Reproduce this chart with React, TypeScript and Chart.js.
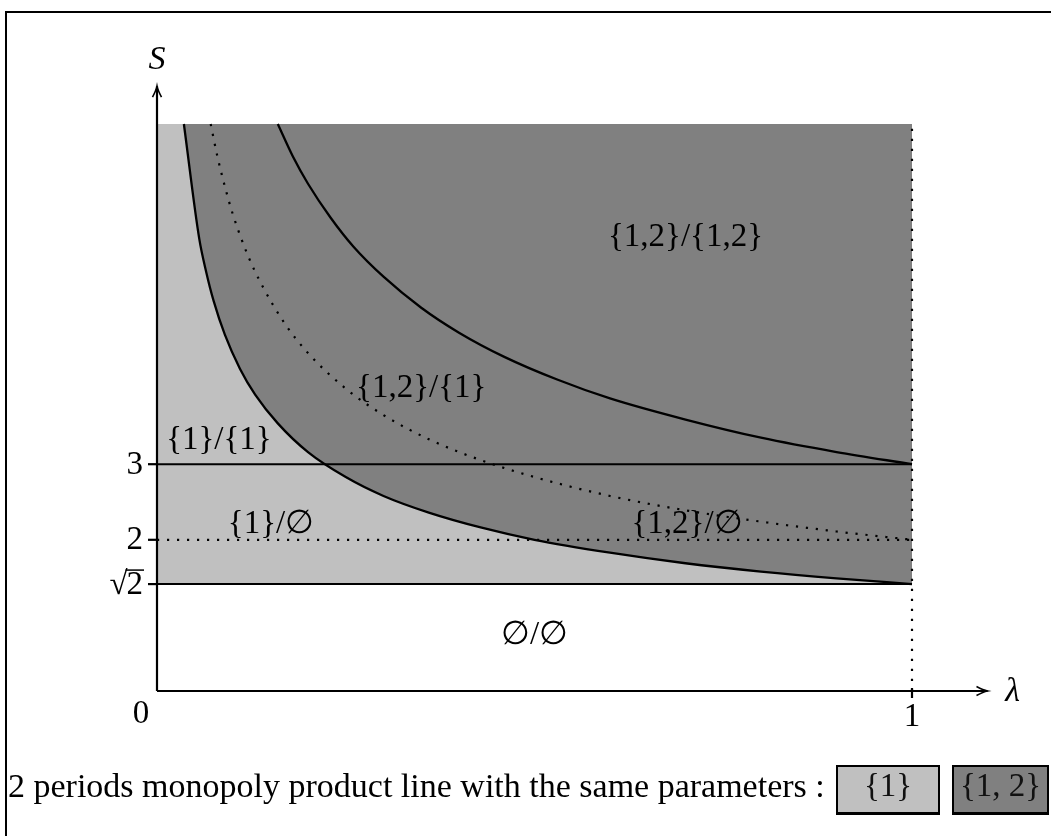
import { useEffect, useRef } from 'react';
import { Chart, registerables } from 'chart.js';

Chart.register(...registerables);

const FONT = '"Liberation Serif", "DejaVu Serif", serif';

// axis extents (data units)
const LAMBDA_AXIS_END = 1.1;
const S_AXIS_END = 8;
const S_TOP = 7.5;
const SQRT2 = 1.4142;

// lower boundary curve ({1} / {1,2} frontier)
const lowerLambda = [0.0356, 0.056, 0.065, 0.075, 0.09, 0.11, 0.13, 0.16, 0.2, 0.25, 0.3, 0.36, 0.43, 0.5, 0.6, 0.7, 0.8, 0.9, 1.0];
const lowerS = [7.5, 5.98, 5.55, 5.16, 4.71, 4.26, 3.92, 3.54, 3.16, 2.83, 2.58, 2.36, 2.16, 2.0, 1.83, 1.69, 1.58, 1.49, 1.4142];

// dotted curve
const dottedLambda = [0.0711, 0.08, 0.09, 0.1, 0.12, 0.14, 0.17, 0.2, 0.25, 0.3, 0.36, 0.43, 0.5, 0.6, 0.7, 0.8, 0.9, 1.0];
const dottedS = [7.5, 7.07, 6.67, 6.32, 5.77, 5.35, 4.85, 4.47, 4.0, 3.65, 3.33, 3.05, 2.83, 2.58, 2.39, 2.24, 2.11, 2.0];

// upper curve
const upperLambda = [0.16, 0.18, 0.2, 0.23, 0.26, 0.3, 0.35, 0.4, 0.46, 0.53, 0.6, 0.7, 0.8, 0.9, 1.0];
const upperS = [7.5, 7.07, 6.71, 6.26, 5.88, 5.48, 5.07, 4.74, 4.42, 4.12, 3.87, 3.59, 3.35, 3.16, 3.0];

// ticks
const yTickValues = [3, 2, SQRT2];
const yTickLabels = ['3', '2', '√2'];
const xTickValues = [1];
const xTickLabels = ['1'];

// region labels
const regionLabels = ['{1,2}/{1,2}', '{1,2}/{1}', '{1}/{1}', '{1}/∅', '{1,2}/∅', '∅/∅'];
const regionLambda = [0.70, 0.35, 0.082, 0.151, 0.702, 0.5];
const regionS = [6.0, 4.0, 3.31, 2.2, 2.2, 0.73];

const legendLabels = ['{1}', '{1, 2}'];
const caption = 'Figure 4: Dynamic (Stackelberg) product line equilibrium when the longest period';
const legendText = '2 periods monopoly product line with the same parameters :';

const LIGHT = '#c0c0c0';
const DARK = '#808080';

const pts = (xs: number[], ys: number[]) => xs.map((x, i) => ({ x, y: ys[i] }));

const overlay = {
  id: 'overlay',
  afterDatasetsDraw(chart: any) {
    const { ctx, scales, chartArea } = chart;
    const X = scales.x;
    const Y = scales.y;
    const px = (v: number) => X.getPixelForValue(v);
    const py = (v: number) => Y.getPixelForValue(v);
    ctx.save();
    ctx.strokeStyle = '#000';
    ctx.fillStyle = '#000';
    ctx.lineCap = 'butt';
    const seg = (x1: number, y1: number, x2: number, y2: number, w: number) => {
      ctx.lineWidth = w;
      ctx.beginPath();
      ctx.moveTo(x1, y1);
      ctx.lineTo(x2, y2);
      ctx.stroke();
    };
    const x0 = px(0);
    const y0 = py(0);
    // axes
    seg(x0, y0, px(LAMBDA_AXIS_END), y0, 2.2);
    seg(x0, y0, x0, py(S_AXIS_END), 2.2);
    // arrow heads
    ctx.lineWidth = 1.6;
    const xt = px(LAMBDA_AXIS_END);
    ctx.beginPath();
    ctx.moveTo(xt - 11, y0 - 4.5);
    ctx.quadraticCurveTo(xt - 4, y0 - 0.8, xt, y0);
    ctx.quadraticCurveTo(xt - 4, y0 + 0.8, xt - 11, y0 + 4.5);
    ctx.stroke();
    const yt = py(S_AXIS_END);
    ctx.beginPath();
    ctx.moveTo(x0 - 4.5, yt + 11);
    ctx.quadraticCurveTo(x0 - 0.8, yt + 4, x0, yt);
    ctx.quadraticCurveTo(x0 + 0.8, yt + 4, x0 + 4.5, yt + 11);
    ctx.stroke();
    // y ticks
    ctx.font = `33px ${FONT}`;
    ctx.textBaseline = 'middle';
    yTickValues.forEach((v, i) => {
      const yy = py(v);
      seg(x0 - 9, yy, x0, yy, 2.2);
      const lab = yTickLabels[i];
      ctx.textAlign = 'right';
      if (lab.startsWith('√')) {
        const rest = lab.slice(1);
        const w = ctx.measureText(rest).width;
        const right = x0 - 14;
        ctx.fillText(rest, right, yy + 1);
        ctx.fillText('√', right - w + 1, yy + 1);
        seg(right - w - 1, yy - 14, right + 1, yy - 14, 1.5);
      } else {
        ctx.fillText(lab, x0 - 14, yy + 1);
      }
    });
    // x ticks
    xTickValues.forEach((v, i) => {
      const xx = px(v);
      seg(xx, y0 - 3, xx, y0 + 7, 2.2);
      ctx.textAlign = 'center';
      ctx.fillText(xTickLabels[i], xx, y0 + 26);
    });
    // origin label
    ctx.textAlign = 'center';
    ctx.fillText('0', x0 - 16, y0 + 23);
    // axis titles
    ctx.font = `italic 34px ${FONT}`;
    ctx.fillText('S', x0, chartArea.top - 26);
    ctx.fillText('λ', px(LAMBDA_AXIS_END) + 25, y0 + 1);
    // region labels
    ctx.font = `33px ${FONT}`;
    regionLabels.forEach((t, i) => {
      ctx.fillText(t, px(regionLambda[i]), py(regionS[i]));
    });
    ctx.restore();
  },
};

export default function App() {
  const ref = useRef<HTMLCanvasElement>(null);
  useEffect(() => {
    const chart = new Chart(ref.current as HTMLCanvasElement, {
      type: 'scatter',
      data: {
        datasets: [
          {
            data: pts([0, 1], [S_TOP, S_TOP]),
            showLine: true,
            fill: { value: SQRT2 },
            backgroundColor: LIGHT,
            borderColor: 'rgba(0,0,0,0)',
            borderWidth: 0,
            order: 10,
          },
          {
            data: pts(lowerLambda, lowerS),
            showLine: true,
            fill: { value: S_TOP },
            backgroundColor: DARK,
            borderColor: '#000',
            borderWidth: 2.3,
            cubicInterpolationMode: 'monotone',
            order: 9,
          },
          {
            data: pts([0, 1], [3, 3]),
            showLine: true,
            borderColor: '#000',
            borderWidth: 2,
            order: 5,
          },
          {
            data: pts([0, 1], [SQRT2, SQRT2]),
            showLine: true,
            borderColor: '#000',
            borderWidth: 2,
            order: 5,
          },
          {
            data: pts([0, 1], [2, 2]),
            showLine: true,
            borderColor: '#000',
            borderWidth: 2.2,
            borderDash: [2.2, 7.8],
            order: 5,
          },
          {
            data: pts([1, 1], [0, S_TOP]),
            showLine: true,
            borderColor: '#000',
            borderWidth: 2.2,
            borderDash: [2.2, 7.8],
            order: 5,
          },
          {
            data: pts(dottedLambda, dottedS),
            showLine: true,
            borderColor: '#000',
            borderWidth: 2.2,
            borderDash: [2.2, 7.8],
            cubicInterpolationMode: 'monotone',
            order: 4,
          },
          {
            data: pts(upperLambda, upperS),
            showLine: true,
            borderColor: '#000',
            borderWidth: 2.3,
            cubicInterpolationMode: 'monotone',
            order: 3,
          },
        ],
      },
      options: {
        responsive: false,
        animation: false,
        events: [],
        layout: { padding: { left: 157, right: 63.5, top: 86.2, bottom: 145 } },
        scales: {
          x: { type: 'linear', min: 0, max: LAMBDA_AXIS_END, display: false },
          y: { type: 'linear', min: 0, max: S_AXIS_END, display: false },
        },
        elements: { point: { radius: 0 } },
        plugins: { legend: { display: false }, tooltip: { enabled: false } },
      },
      plugins: [overlay],
    } as any);
    return () => chart.destroy();
  }, []);

  const box = (left: number, width: number, bg: string): any => ({
    position: 'absolute',
    left,
    top: 765,
    width,
    height: 50,
    boxSizing: 'border-box',
    border: '2px solid #000',
    borderBottomWidth: 3,
    background: bg,
    textAlign: 'center',
    lineHeight: '45px',
    font: `33px ${FONT}`,
    color: '#111',
  });

  return (
    <div style={{ position: 'absolute', left: 0, top: 0, width: 1051, height: 836, overflow: 'hidden', background: '#fff' }}>
      <div style={{ position: 'absolute', left: 8, top: -35, font: `33px ${FONT}`, lineHeight: '33px', whiteSpace: 'nowrap' }}>{caption}</div>
      <div style={{ position: 'absolute', left: 5, top: 11, width: 1200, height: 1000, border: '2px solid #000' }} />
      <canvas ref={ref} width={1051} height={836} style={{ position: 'absolute', left: 0, top: 0 }} />
      <div style={{ position: 'absolute', left: 8, top: 767, height: 50, lineHeight: '50px', font: `34px ${FONT}`, whiteSpace: 'nowrap' }}>{legendText}</div>
      <div style={box(836, 104, LIGHT)}>{legendLabels[0]}</div>
      <div style={box(952, 97, DARK)}>{legendLabels[1]}</div>
    </div>
  );
}
